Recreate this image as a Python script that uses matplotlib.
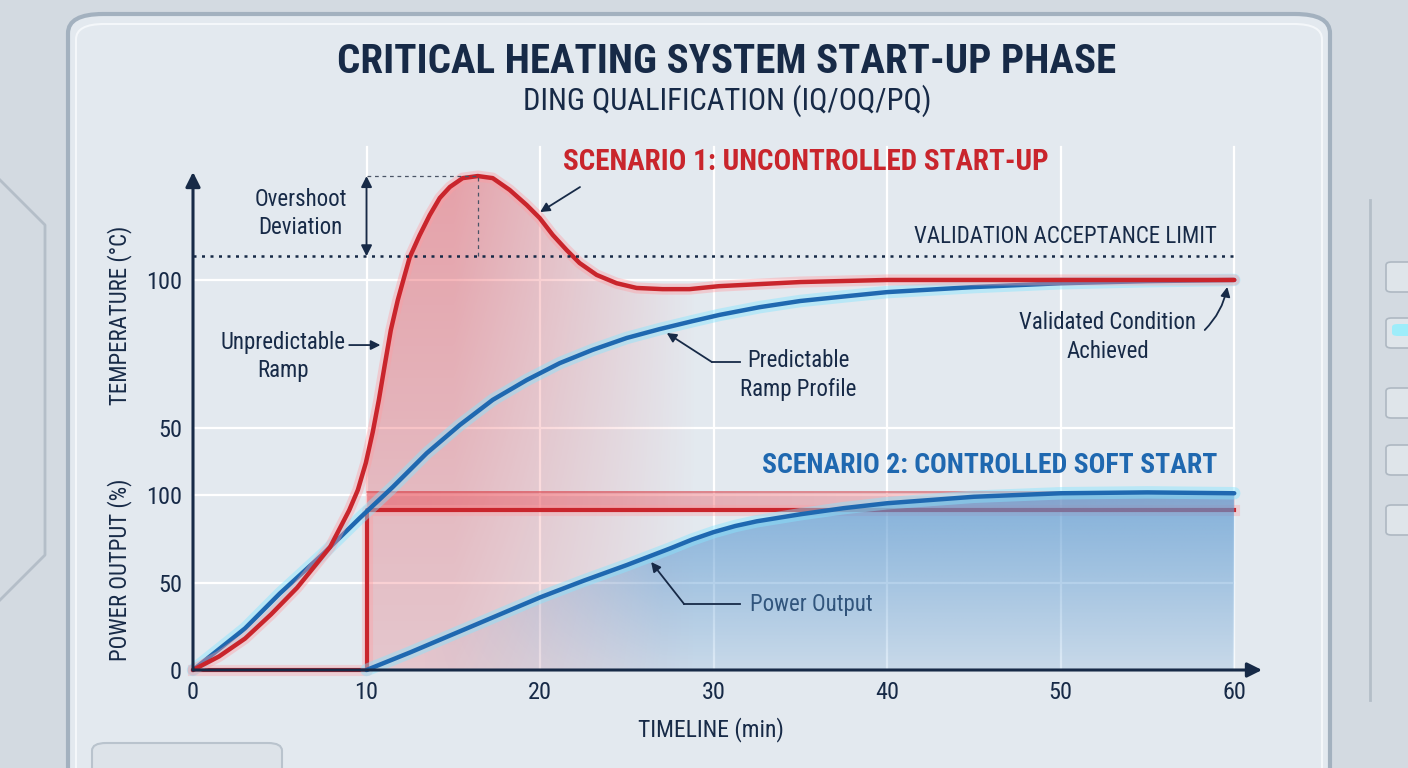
import numpy as np
import matplotlib.pyplot as plt
import matplotlib.patheffects as pe
from matplotlib.patches import FancyBboxPatch, Polygon

# ---- data ----
# temperature, scenario 1 (uncontrolled start-up), degC
t_unc = [0, 1.5, 3, 4.5, 6, 7.9, 9, 9.5, 9.96, 10.36, 10.71, 11.05, 11.4, 11.8, 12.15, 12.49,
         13.05, 13.64, 14.22, 14.8, 15.54, 16.41, 17.27, 18.25, 19.23, 19.98, 20.73, 21.53,
         22.28, 23.26, 24.41, 25.56, 27.06, 28.61, 30.3, 35, 40, 50, 60]
temp_unc = [0, 2.8, 6.5, 11.5, 17, 25.4, 33, 37.2, 42.8, 49.2, 59.5, 71.3, 83.1, 93.2, 100.6,
            107.7, 115, 121.9, 127.7, 131.4, 134.4, 135.1, 134.4, 130.4, 125.3, 120.9, 115.2,
            110.1, 105.7, 101.7, 98.9, 97.3, 96.9, 96.9, 97.9, 99.3, 100, 100, 100]

# temperature, scenario 2 (controlled soft start), degC
t_soft = [0, 3, 5, 7.5, 9.61, 11.51, 13.47, 15.37, 17.27, 19.23, 21.13, 23.03, 24.99,
          26.89, 28.79, 30.34, 32.64, 35, 37.8, 40, 45, 50, 55, 60]
temp_soft = [0, 8.6, 15.8, 24, 31.4, 37.8, 44.8, 51, 59.5, 66.2, 71.9, 76.4, 80.4,
             83.4, 86.1, 88.2, 90.8, 92.9, 94.6, 95.9, 97.6, 98.9, 99.6, 100]

# power output, scenario 1 (step), %
t_pow_unc = [0, 10, 60]
pow_unc = [0, 91.4, 91.4]
pow_unc_band = [91.4, 101.7]

# power output, scenario 2 (soft ramp), %
t_pow_soft = [10, 12.5, 15, 17.5, 20, 22.5, 25, 27.5, 28.75, 30, 31.25, 32.5, 35, 37.5,
              40, 45, 50, 55, 60]
pow_soft = [0, 10, 20.5, 31, 41.5, 51, 60, 69.5, 74.5, 78.8, 82.3, 85, 89, 92.5,
            95.3, 99, 101, 101.5, 101]

limit_temp = 108.0
x_ticks = [0, 10, 20, 30, 40, 50, 60]
power_ticks = [0, 50, 100]
temp_ticks = [50, 100]


# temperature scale sits above the power scale on the same vertical axis
def temp_to_level(T):
    T = np.asarray(T, float)
    return np.where(T <= 50, T * 138.3 / 50, 138.3 + (T - 50) * (222.9 - 138.3) / 50)


RED = '#c9252c'
BLUE = '#1f68b0'
NAVY = '#172a47'
fam = ['Roboto Condensed', 'Liberation Sans Narrow', 'DejaVu Sans']

fig = plt.figure(figsize=(14.08, 7.68), dpi=100)
fig.patch.set_facecolor('#d3dae1')

# panel background
panel = FancyBboxPatch((68 / 1408, -0.05), (1330 - 68) / 1408, (768 - 14) / 768 + 0.05,
                       boxstyle='round,pad=0,rounding_size=0.025', transform=fig.transFigure,
                       facecolor='#e3e9ef', edgecolor='#a3b1bf', lw=3, zorder=0)
fig.patches.append(panel)
inner = FancyBboxPatch((76 / 1408, -0.05), (1322 - 76) / 1408, (768 - 24) / 768 + 0.05,
                       boxstyle='round,pad=0,rounding_size=0.02', transform=fig.transFigure,
                       facecolor='none', edgecolor='#f4f7fa', lw=1.5, zorder=0)
fig.patches.append(inner)
# side decorations
for y0, y1 in [(262, 292), (318, 348), (388, 418), (445, 475), (505, 535)]:
    fig.patches.append(FancyBboxPatch((1386 / 1408, 1 - y1 / 768), 0.03, (y1 - y0) / 768,
                                      boxstyle='round,pad=0,rounding_size=0.004',
                                      transform=fig.transFigure, facecolor='#dfe5ea',
                                      edgecolor='#aeb8c2', lw=1.2, zorder=0))
fig.patches.append(FancyBboxPatch((1392 / 1408, 1 - 336 / 768), 0.02, 12 / 768,
                                  boxstyle='round,pad=0,rounding_size=0.004',
                                  transform=fig.transFigure, facecolor='#8ef0ff',
                                  edgecolor='none', alpha=0.8, zorder=0))
fig.lines.append(plt.Line2D([0, 45 / 1408, 45 / 1408, 0],
                            [1 - 180 / 768, 1 - 225 / 768, 1 - 555 / 768, 1 - 600 / 768],
                            transform=fig.transFigure, color='#b4bec8', lw=2))
fig.lines.append(plt.Line2D([1370 / 1408, 1370 / 1408], [1 - 200 / 768, 1 - 700 / 768],
                            transform=fig.transFigure, color='#b4bec8', lw=2))
fig.patches.append(FancyBboxPatch((92 / 1408, -0.05), 190 / 1408, 25 / 768 + 0.05,
                                  boxstyle='round,pad=0,rounding_size=0.01',
                                  transform=fig.transFigure, facecolor='#dde3e9',
                                  edgecolor='#b9c3cd', lw=1.5, zorder=0))

ax = fig.add_axes([193 / 1408, 98 / 768, 1069 / 1408, 498 / 768])
ax.set_zorder(2)
ax.set_facecolor('none')
XMAX, YMAX = 61.6, 284.6
lvl_unc = temp_to_level(temp_unc)
lvl_soft = temp_to_level(temp_soft)
lvl_limit = float(temp_to_level(limit_temp))
lvl_peak = float(lvl_unc.max())
t_peak = t_unc[int(np.argmax(lvl_unc))]

# grid
for v in x_ticks[1:]:
    ax.plot([v, v], [0, 299], color='white', lw=1.6, zorder=1, clip_on=False)
for h in list(power_ticks[1:]) + list(temp_to_level(temp_ticks)):
    ax.plot([0, 60], [h, h], color='white', lw=1.6, zorder=1)

# red gradient under the uncontrolled temperature curve
tu = np.array(t_unc)
m = tu >= 9.96
verts = np.column_stack([np.r_[tu[m], tu[m][-1], tu[m][0]], np.r_[lvl_unc[m], 0, 0]])
clip_red = Polygon(verts, closed=True, facecolor='none', edgecolor='none')
ax.add_patch(clip_red)
gx, gy = np.meshgrid(np.linspace(9.9, 40, 300), np.linspace(0, YMAX, 300))
a = (0.22 + 0.24 * gy / YMAX) * np.clip(1 - (gx - 15) / 14, 0, 1)
img = np.zeros(gx.shape + (4,))
img[..., :3] = (0.91, 0.30, 0.34)
img[..., 3] = a
im = ax.imshow(img, extent=[9.9, 40, 0, YMAX], origin='lower', aspect='auto', zorder=2)
im.set_clip_path(clip_red)

# pale band of the red power step
bx = np.linspace(0, 1, 200)
band = np.zeros((2, 200, 4))
band[..., :3] = (0.92, 0.32, 0.36)
band[..., 3] = 0.5 - 0.3 * bx
ax.imshow(band, extent=[t_pow_unc[1], t_pow_unc[2], pow_unc_band[0], pow_unc_band[1]],
          origin='lower', aspect='auto', zorder=2)
ax.plot([t_pow_unc[1], t_pow_unc[2]], [pow_unc_band[1]] * 2, color=RED, alpha=0.35, lw=1.2, zorder=2)

# red power step
ax.step(t_pow_unc, pow_unc, where='post', color=RED, lw=3, zorder=3, clip_on=False,
        path_effects=[pe.Stroke(linewidth=8, foreground='#ff9da2', alpha=0.35), pe.Normal()])

# blue gradient under the soft-start power curve
tp = np.array(t_pow_soft)
pp = np.array(pow_soft)
verts_b = np.column_stack([np.r_[tp, tp[-1], tp[0]], np.r_[pp, 0, 0]])
clip_blue = Polygon(verts_b, closed=True, facecolor='none', edgecolor='none')
ax.add_patch(clip_blue)
gx, gy = np.meshgrid(np.linspace(10, 60, 300), np.linspace(0, 102, 200))
a = (0.2 + 0.52 * gy / 102) * np.clip((gx - 13) / 14, 0, 1)
img = np.zeros(gx.shape + (4,))
img[..., :3] = (0.36, 0.60, 0.82)
img[..., 3] = a
im = ax.imshow(img, extent=[10, 60, 0, 102], origin='lower', aspect='auto', zorder=4)
im.set_clip_path(clip_blue)

glow_b = [pe.Stroke(linewidth=9, foreground='#86e6ff', alpha=0.45), pe.Normal()]
glow_r = [pe.Stroke(linewidth=8, foreground='#ff9da2', alpha=0.4), pe.Normal()]
line_kw = dict(lw=3.2, clip_on=False, solid_joinstyle='round', solid_capstyle='round')
ax.plot(t_pow_soft, pow_soft, color=BLUE, zorder=5, path_effects=glow_b, **line_kw)
ax.plot(t_soft, lvl_soft, color=BLUE, zorder=6, path_effects=glow_b, **line_kw)
ax.plot(t_unc, lvl_unc, color=RED, zorder=6, path_effects=glow_r, **line_kw)

# acceptance limit and overshoot markers
ax.plot([0, 60], [lvl_limit, lvl_limit], color=NAVY, lw=1.8, ls=(0, (1.2, 2.2)), zorder=7)
ax.plot([10, t_peak], [lvl_peak, lvl_peak], color='#4a5466', lw=0.9, ls=(0, (3, 3)), zorder=7)
ax.plot([t_peak, t_peak], [lvl_limit, lvl_peak], color='#4a5466', lw=0.9, ls=(0, (3, 3)), zorder=7)
ax.annotate('', xy=(10, lvl_peak), xytext=(10, lvl_limit),
            arrowprops=dict(arrowstyle='<|-|>', color=NAVY, lw=1.4, mutation_scale=16,
                            shrinkA=0, shrinkB=0), zorder=8)

# axes arrows
ax.annotate('', xy=(1, 0), xytext=(0, 0), xycoords='axes fraction',
            arrowprops=dict(arrowstyle='-|>', color=NAVY, lw=2.2, mutation_scale=22,
                            shrinkA=0, shrinkB=0), zorder=9)
ax.annotate('', xy=(0, 1), xytext=(0, 0), xycoords='axes fraction',
            arrowprops=dict(arrowstyle='-|>', color=NAVY, lw=2.2, mutation_scale=22,
                            shrinkA=0, shrinkB=0), zorder=9)

ax.set_xlim(0, XMAX)
ax.set_ylim(0, YMAX)
for s in ax.spines.values():
    s.set_visible(False)
ax.set_xticks(x_ticks)
ax.set_xticklabels([str(v) for v in x_ticks], family=fam, fontsize=17.5, color=NAVY)
yt = list(power_ticks) + list(temp_to_level(temp_ticks))
ax.set_yticks(yt)
ax.set_yticklabels([str(v) for v in power_ticks] + [str(v) for v in temp_ticks],
                   family=fam, fontsize=17.5, color=NAVY)
ax.tick_params(length=0, pad=8)

# text
tk = dict(family=fam, color=NAVY, fontsize=16.5)
ax.text(35.3, 290.3, 'SCENARIO 1: UNCONTROLLED START-UP', ha='center', va='center',
        family=fam, fontsize=21, fontweight='bold', color=RED, zorder=10)
ax.text(59.0, 117.1, 'SCENARIO 2: CONTROLLED SOFT START', ha='right', va='center',
        family=fam, fontsize=20, fontweight='bold', color=BLUE, zorder=10)
ax.text(59.0, 248, 'VALIDATION ACCEPTANCE LIMIT', ha='right', va='center', zorder=10,
        family=fam, fontsize=16.5, color=NAVY)
ax.text(6.2, 261, 'Overshoot\nDeviation', ha='center', va='center', linespacing=1.3, **tk)
ax.text(5.2, 179, 'Unpredictable\nRamp', ha='center', va='center', linespacing=1.3, **tk)
ax.text(34.9, 168.6, 'Predictable\nRamp Profile', ha='center', va='center', linespacing=1.3, **tk)
ax.text(52.7, 190.3, 'Validated Condition\nAchieved', ha='center', va='center', linespacing=1.3, **tk)
ax.text(32.1, 37.7, 'Power Output', ha='left', va='center', **tk)

arw = dict(arrowstyle='-|>', color=NAVY, lw=1.3, mutation_scale=14, shrinkA=0, shrinkB=0)
ax.annotate('', xy=(10.8, 185.7), xytext=(9.0, 185.7), arrowprops=arw, zorder=10)
ax.annotate('', xy=(20.0, 261.7), xytext=(22.3, 276), arrowprops=arw, zorder=10)
ax.plot([31.5, 29.9], [176, 176], color=NAVY, lw=1.3, zorder=10)
ax.annotate('', xy=(27.3, 192.6), xytext=(29.9, 176), arrowprops=arw, zorder=10)
ax.plot([31.5, 28.3], [37.7, 37.7], color=NAVY, lw=1.3, zorder=10)
ax.annotate('', xy=(26.4, 61.7), xytext=(28.3, 37.7), arrowprops=arw, zorder=10)
ax.annotate('', xy=(59.6, 218.9), xytext=(58.3, 194.3),
            arrowprops=dict(arw, connectionstyle='arc3,rad=0.15'), zorder=10)

fig.text(727 / 1408, 1 - 62 / 768, 'CRITICAL HEATING SYSTEM START-UP PHASE', ha='center',
         va='center', family=fam, fontsize=29.5, fontweight='bold', color=NAVY)
fig.text(727 / 1408, 1 - 101 / 768, 'DING QUALIFICATION (IQ/OQ/PQ)', ha='center',
         va='center', family=fam, fontsize=22, color=NAVY)
fig.text(711 / 1408, 1 - 730 / 768, 'TIMELINE (min)', ha='center', va='center',
         family=fam, fontsize=17, color=NAVY)
fig.text(120 / 1408, 1 - 315 / 768, 'TEMPERATURE (°C)', ha='center', va='center',
         rotation=90, family=fam, fontsize=16.5, color=NAVY)
fig.text(120 / 1408, 1 - 570 / 768, 'POWER OUTPUT (%)', ha='center', va='center',
         rotation=90, family=fam, fontsize=16.5, color=NAVY)

plt.savefig('out.png', dpi=100, facecolor=fig.get_facecolor())
